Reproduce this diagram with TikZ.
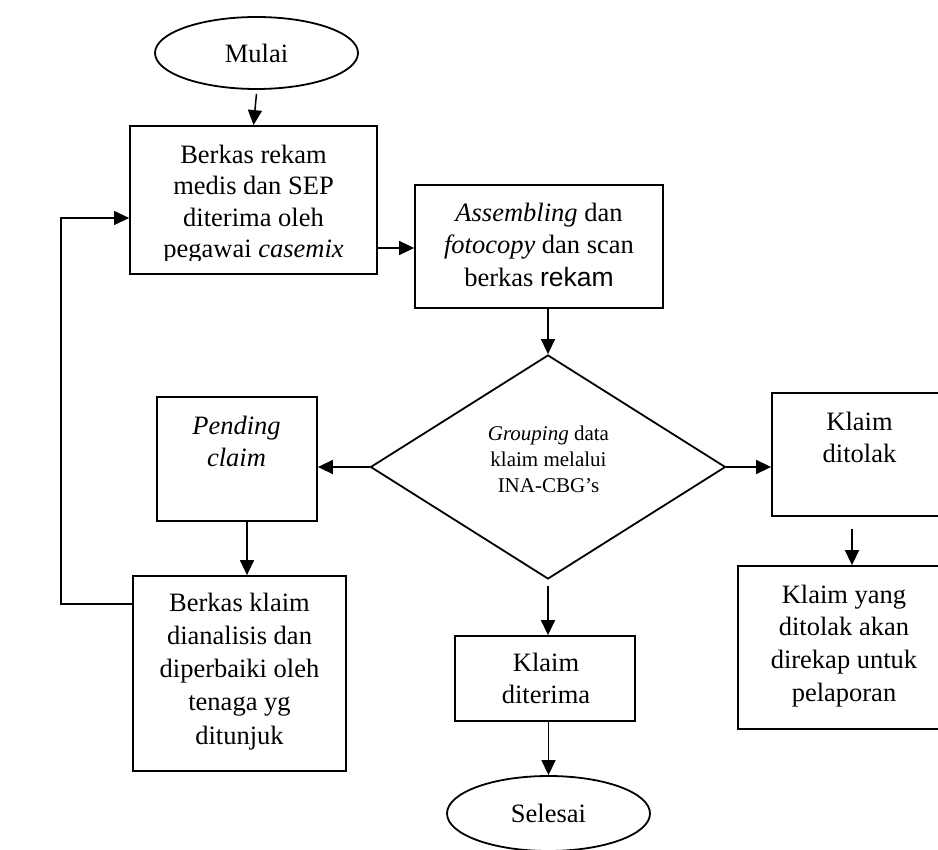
\documentclass[tikz,border=0pt]{standalone}
\usepackage{fontspec}
\setmainfont{Liberation Serif}
\setsansfont{Liberation Sans}
\usetikzlibrary{shapes.geometric,arrows.meta,calc}
\begin{document}
\begin{tikzpicture}[x=1pt,y=-1pt,
  line width=1.8pt,
  arr/.style={-{Triangle[length=15pt,width=14pt]}, line width=1.5pt},
  boxnode/.style={draw, rectangle, inner sep=0pt},
  ovalnode/.style={draw, ellipse, inner sep=0pt, font=\fontsize{26.5}{31.5}\selectfont},
  txt/.style={anchor=north, align=center, inner sep=0pt, font=\fontsize{26.5}{#1}\selectfont},
  txt/.default=32,
]
\useasboundingbox (0,0) rectangle (938,850);
\clip (0,0) rectangle (938,850);

% shapes
\node[ovalnode, minimum width=203pt, minimum height=72pt] (mulai) at (256.5,53) {Mulai};
\node[boxnode, minimum width=247pt, minimum height=148pt] (box1) at (253.5,200) {};
\node[boxnode, minimum width=248pt, minimum height=123pt] (box2) at (539,246.5) {};
\node[draw, diamond, minimum width=355pt, minimum height=224pt, inner sep=0pt] (dia) at (548,467) {};
\node[boxnode, minimum width=160pt, minimum height=124pt] (pending) at (237,459) {};
\node[boxnode, minimum width=174pt, minimum height=123pt] (ditolak) at (859,454.5) {};
\node[boxnode, minimum width=213pt, minimum height=195pt] (berkas) at (239.5,673.5) {};
\node[boxnode, minimum width=180pt, minimum height=85pt] (diterima) at (545,678.5) {};
\node[boxnode, minimum width=208pt, minimum height=163pt] (klaimyang) at (842,647.5) {};
\node[ovalnode, minimum width=203pt, minimum height=75pt] (selesai) at (548.5,813.5) {Selesai};

% texts
\begin{scope}
  \clip (130,126) rectangle (377,261);
  \node[txt=31.5] (t1) at (253.5,144) {Berkas rekam\\medis dan SEP\\diterima oleh\\pegawai \textit{casemix}};
\end{scope}
\node[txt=32.5] (t2) at (539,202) {\textit{Assembling} dan\\\textit{fotocopy} dan scan\\berkas {\sffamily rekam}};
\node[anchor=north, align=center, inner sep=0pt, font=\fontsize{21}{26}\selectfont] (td) at (548.5,425.5) {\textit{Grouping} data\\klaim melalui\\INA-CBG's};
\node[txt=32] (tp) at (236.5,415) {\textit{Pending}\\\textit{claim}};
\node[txt=33.2] (tb) at (239.5,592) {Berkas klaim\\dianalisis dan\\diperbaiki oleh\\tenaga yg\\ditunjuk};
\node[txt=32] (tt) at (546,652) {Klaim\\diterima};
\node[txt=32] (tk) at (859.5,411) {Klaim\\ditolak};
\node[txt=32.7] (ty) at (844,584) {Klaim yang\\ditolak akan\\direkap untuk\\pelaporan};

% connectors
\draw[arr] ($(mulai.south)+(0,4)$) -- (box1.north);
\draw[arr] ([yshift=-48pt]box1.east) -- ([yshift=-48pt]box1.east -| box2.west);
\draw[arr] (box2.south -| dia.north) -- (dia.north);
\draw[arr] (dia.west) -- (dia.west -| pending.east);
\draw[arr] (dia.east) -- (dia.east -| ditolak.west);
\draw[arr] ($(dia.south)+(0,6)$) -- (dia.south |- diterima.north);
\draw[arr] (diterima.south -| selesai.north) -- (selesai.north);
\draw[arr] ([xshift=10pt]pending.south) -- ([xshift=10pt]pending.south |- berkas.north);
\draw[arr] ([xshift=-7pt,yshift=-12pt]ditolak.south) -- ([xshift=-7pt]ditolak.south |- klaimyang.north);
\coordinate (lpb) at (61,604);
\coordinate (lpt) at (61,218);
\draw[arr, line width=1.2pt] (berkas.west |- lpb) -- (lpb) -- (lpt) -- (box1.west |- lpt);
\end{tikzpicture}
\end{document}
